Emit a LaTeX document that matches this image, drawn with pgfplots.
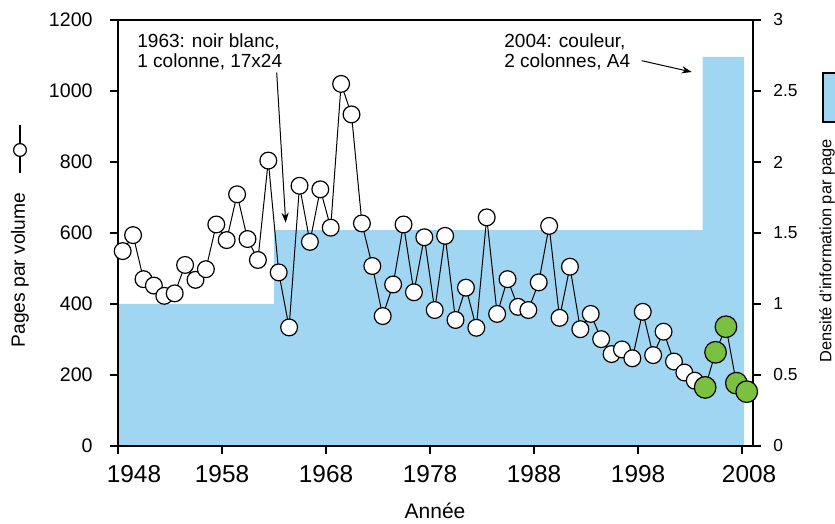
\documentclass[border=0pt]{standalone}
\usepackage{fontspec}
\setmainfont{Liberation Sans}
\usepackage{pgfplots}
\pgfplotsset{compat=1.18}
\usetikzlibrary{arrows.meta}

\definecolor{densblue}{RGB}{160,214,242}
\definecolor{recgreen}{RGB}{122,193,66}

\begin{document}
\begin{tikzpicture}
\pgfplotsset{
  common/.style={
    scale only axis, width=317.5pt, height=213pt,
    xmin=1948, xmax=2009.05,
    axis line style={line width=1.1pt},
    every tick/.style={line width=1pt, black},
    tick align=outside,
    major tick length=4pt,
    /pgf/number format/assume math mode=true,
    /pgf/number format/1000 sep={},
  },
}
% densite d'information (axe de droite)
\begin{axis}[common, name=dens,
  ymin=0, ymax=3,
  xtick=\empty,
  ytick={0,0.5,1,1.5,2,2.5,3},
  ytick pos=right, yticklabel pos=right,
  yticklabel style={font=\fontsize{8.7}{10}\selectfont, anchor=west, inner sep=0pt, xshift=6pt},
]
\addplot[fill=densblue, draw=none, const plot] coordinates {
  (1948,1) (1963,1.52) (2004.2,2.74) (2008.2,2.74)
} \closedcycle;
\end{axis}

% pages par volume (axe de gauche)
\begin{axis}[common, name=pages,
  ymin=0, ymax=1200,
  ytick={0,200,400,600,800,1000,1200},
  ytick pos=left,
  yticklabel style={font=\fontsize{9.8}{11}\selectfont, anchor=east, inner sep=0pt, xshift=-8.5pt},
  xtick={1948,1958,1968,1978,1988,1998,2008},
  xticklabels={{\hspace*{16pt}1948},1958,1968,1978,1988,1998,{\hspace*{7pt}2008}},
  xtick pos=lower,
  xticklabel style={font=\fontsize{12.2}{14}\selectfont, anchor=north, inner sep=0pt, yshift=-5.5pt},
  x filter/.expression={x+0.45},
  clip=false,
]
\addplot[black, line width=0.5pt, mark=*, mark size=4.2pt,
  mark options={fill=white, draw=black, line width=0.6pt}] table {
x y
1948 549
1949 594
1950 470
1951 452
1952 423
1953 430
1954 510
1955 468
1956 498
1957 624
1958 580
1959 709
1960 583
1961 524
1962 804
1963 489
1964 334
1965 733
1966 575
1967 723
1968 615
1969 1020
1970 934
1971 627
1972 507
1973 366
1974 455
1975 624
1976 433
1977 588
1978 383
1979 592
1980 355
1981 446
1982 333
1983 644
1984 372
1985 470
1986 392
1987 383
1988 461
1989 620
1990 361
1991 505
1992 329
1993 372
1994 301
1995 259
1996 272
1997 247
1998 378
1999 256
2000 322
2001 238
2002 207
2003 184
2004 165
2005 264
2006 336
2007 177
2008 153
};
\addplot[only marks, mark=*, mark size=5.4pt,
  mark options={fill=recgreen, draw=black, line width=0.6pt}] table {
x y
2004 165
2005 264
2006 336
2007 177
2008 153
};
\end{axis}

\begin{scope}[shift={(pages.south west)}]
  \node[anchor=north west, inner sep=0pt, align=left, font=\fontsize{9.5}{10}\selectfont]
    at (9.5pt,206.5pt) {1963: noir blanc,\\1 colonne, 17x24};
  \draw[-{Stealth[length=5pt,width=3.6pt]}, line width=0.5pt] (79.35pt,186.65pt) -- (83.85pt,111.65pt);
  \node[anchor=north west, inner sep=0pt, align=left, font=\fontsize{9.5}{10}\selectfont]
    at (193pt,206.5pt) {2004: couleur,\\2 colonnes, A4};
  \draw[-{Stealth[length=5pt,width=3.6pt]}, line width=0.5pt] (261.85pt,192.65pt) -- (286.85pt,187pt);

  \node[anchor=base, font=\fontsize{10.5}{12}\selectfont] at (158.5pt,-36.5pt) {Année};

  \node[rotate=90, font=\fontsize{9.6}{11}\selectfont] at (-49pt,88pt) {Pages par volume};
  \draw[line width=0.6pt] (-49pt,160.5pt) -- (-49pt,136.5pt);
  \draw[fill=white, line width=0.6pt] (-49pt,148pt) circle (3.2pt);

  \node[rotate=90, font=\fontsize{8.2}{10}\selectfont] at (354.5pt,97.5pt) {Densité d'information par page};
  \draw[fill=densblue, line width=1pt] (352.5pt,162pt) rectangle (362pt,186.5pt);
\end{scope}

\pgfresetboundingbox
\path ([shift={(-59pt,-39pt)}]pages.south west) rectangle ([shift={(358.5pt,223pt)}]pages.south west);
\end{tikzpicture}
\end{document}
